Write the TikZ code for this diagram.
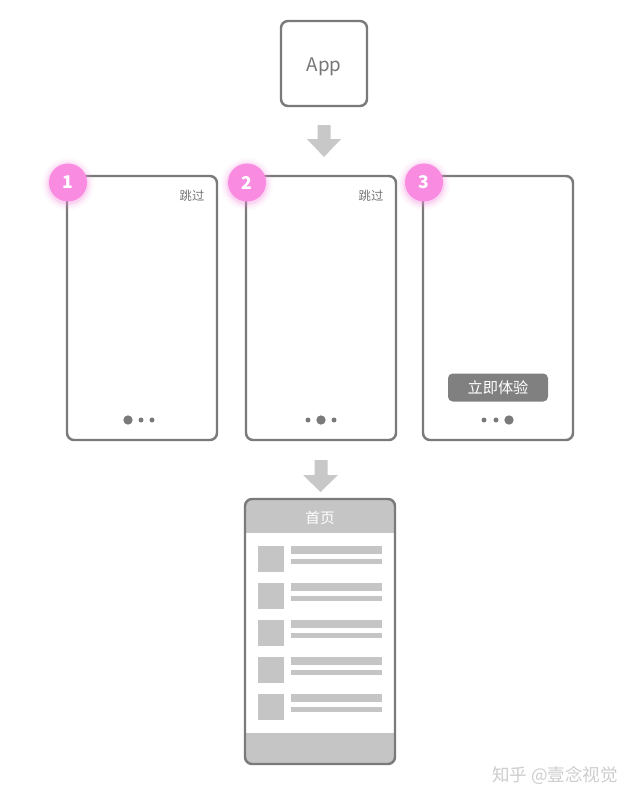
\documentclass[tikz,border=0pt]{standalone}
\usepackage{fontspec}
\setmainfont{Noto Sans CJK SC}
\setsansfont{Noto Sans CJK SC}
\definecolor{framegray}{RGB}{122,122,122}
\definecolor{txtgray}{RGB}{118,118,118}
\definecolor{lightgray2}{RGB}{197,197,197}
\definecolor{arrowgray}{RGB}{200,200,200}
\definecolor{badgepink}{RGB}{249,140,225}
\definecolor{btngray}{RGB}{128,128,128}
\definecolor{markgray}{RGB}{205,205,205}
\begin{document}
\begin{tikzpicture}[x=0.03cm,y=-0.03cm,
  frame/.style={draw=framegray, line width=2.1pt, rounded corners=6pt, inner sep=0pt},
  phone/.style={frame, minimum width=4.5cm, minimum height=7.92cm},
  badge/.style={circle, fill=badgepink, minimum size=1.14cm, inner sep=0pt, text=white, font=\fontsize{15}{15}\selectfont\bfseries},
  skip/.style={text=txtgray, font=\fontsize{10.5}{11}\selectfont, inner sep=0pt},
  bigdot/.style={fill=framegray},
  blockarrow/.style={fill=arrowgray},
  bar/.style={fill=lightgray2}]
\path[use as bounding box] (0,0) rectangle (639,803);
\fill[white] (0,0) rectangle (639,803);

% App
\node[frame, minimum width=2.58cm, minimum height=2.55cm] (app) at (324,63.5) {};
\node[text=txtgray, font=\fontsize{16}{16}\selectfont, inner sep=0pt] (apptext) at (324,67) {App};

% arrow 1
\fill[blockarrow] (317.5,125) -- (330.5,125) -- (330.5,139) -- (341,139) -- (324,157) -- (307,139) -- (317.5,139) -- cycle;

% phones
\node[phone] (p1) at (142,308) {};
\node[phone] (p2) at (321,308) {};
\node[phone] (p3) at (498,308) {};

% badges with glow
\foreach \cx/\n/\lab in {68/b1/1, 247/b2/2, 424/b3/3}{
  \foreach \r/\o in {0.78/0.05, 0.72/0.08, 0.66/0.12, 0.61/0.18}{
    \fill[badgepink, opacity=\o] (\cx,184) circle (\r cm);
  }
  \node[badge] (\n) at (\cx,182.5) {\lab};
}

% skip labels
\node[skip] (s1) at (192,196) {跳过};
\node[skip] (s2) at (371,196) {跳过};

% button
\node[fill=btngray, rounded corners=4pt, minimum width=3cm, minimum height=0.84cm, inner sep=0pt, text=white, font=\fontsize{13}{13}\selectfont] (btn) at (498,387.5) {立即体验};

% page dots
\fill[bigdot] (128,420) circle (0.14cm);
\fill[bigdot] (141,420) circle (0.075cm);
\fill[bigdot] (152,420) circle (0.075cm);
\fill[bigdot] (308,420) circle (0.075cm);
\fill[bigdot] (321,420) circle (0.14cm);
\fill[bigdot] (334,420) circle (0.075cm);
\fill[bigdot] (484,420) circle (0.075cm);
\fill[bigdot] (496,420) circle (0.075cm);
\fill[bigdot] (509,420) circle (0.14cm);

% arrow 2
\fill[blockarrow] (314.5,460) -- (327.5,460) -- (327.5,475) -- (338,475) -- (320.5,492) -- (303,475) -- (314.5,475) -- cycle;

% home page
\begin{scope}
  \clip[rounded corners=6pt] (245,499) rectangle (395,764);
  \fill[lightgray2] (245,499) rectangle (395,533);
  \fill[lightgray2] (245,733) rectangle (395,764);
\end{scope}
\node[frame, minimum width=4.5cm, minimum height=7.95cm] (home) at (320,631.5) {};
\node[text=white, font=\fontsize{12.5}{13}\selectfont, inner sep=0pt] (title) at (320,518) {首页};
\foreach \y in {546,583,620,657,694}{
  \fill[bar] (258,\y) rectangle (284,\y+26);
  \fill[bar] (291,\y) rectangle (382,\y+8);
  \fill[bar] (291,\y+13) rectangle (382,\y+18);
}

% watermark
\node[text=markgray, font=\fontsize{15}{15}\selectfont, inner sep=0pt] (mark) at (555,775) {知乎 @壹念视觉};
\end{tikzpicture}
\end{document}
